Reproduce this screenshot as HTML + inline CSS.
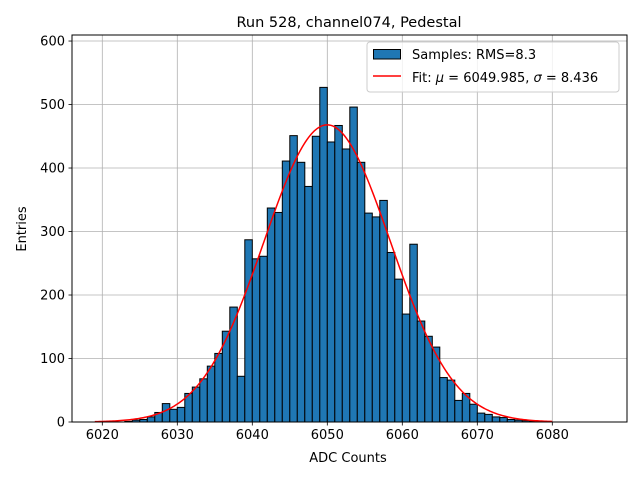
<!DOCTYPE html>
<html><head><meta charset="utf-8"><style>
body{margin:0;background:#fff}
svg text{font-family:"DejaVu Sans","Liberation Sans",sans-serif;fill:#000}
</style></head><body>
<svg id="chart" width="640" height="480" viewBox="0 0 640 480" xmlns="http://www.w3.org/2000/svg">
<rect width="640" height="480" fill="#fff"/>
<text x="349" y="27" font-size="14.5" text-anchor="middle">Run 528, channel074, Pedestal</text>
<g id="grid"></g>
<g id="bars"></g>
<path id="fit" fill="none" stroke="#ff0000" stroke-width="1.5"/>
<rect x="72" y="35" width="555" height="387" fill="none" stroke="#000" stroke-width="1"/>
<g id="ticks"></g>
<text x="348" y="462" font-size="13" text-anchor="middle">ADC Counts</text>
<text x="26" y="229" font-size="13" text-anchor="middle" transform="rotate(-90 26 229)">Entries</text>
<g>
<rect x="367" y="42" width="252" height="50" rx="3" fill="#fff" fill-opacity="0.8" stroke="#cccccc"/>
<rect x="373.5" y="49.5" width="27" height="9.5" fill="#1f77b4" stroke="#000"/>
<text x="412" y="59" font-size="13">Samples: RMS=8.3</text>
<line x1="373" y1="76" x2="401" y2="76" stroke="#ff0000" stroke-width="1.5"/>
<text x="412" y="82" font-size="13">Fit: <tspan font-style="italic">μ</tspan> = 6049.985, <tspan font-style="italic">σ</tspan> = 8.436</text>
</g>
</svg>
<script>
const binStart = [6023,6024,6025,6026,6027,6028,6029,6030,6031,6032,6033,6034,6035,6036,6037,6038,6039,6040,6041,6042,6043,6044,6045,6046,6047,6048,6049,6050,6051,6052,6053,6054,6055,6056,6057,6058,6059,6060,6061,6062,6063,6064,6065,6066,6067,6068,6069,6070,6071,6072,6073,6074,6075,6076,6077];
const counts = [1,3,4,8,15,29,20,23,45,55,68,88,108,143,181,72,287,257,261,337,330,411,451,409,371,450,527,441,467,430,496,409,329,323,349,267,225,170,280,159,135,118,70,66,34,45,28,14,12,8,7,4,3,2,1];
const fitMu = 6049.985;
const fitSigma = 8.436;
const fitAmp = 468;
const fitRange = [6019, 6080];
const xTicks = [6020,6030,6040,6050,6060,6070,6080];
const yTicks = [0,100,200,300,400,500,600];
const binWidth = 1;

const X0=72,X1=627,Y0=422,Y1=35;
const xMin=6015.96,xMax=6089.96,yMin=0,yMax=609.5;
const sx=v=>X0+(v-xMin)/(xMax-xMin)*(X1-X0);
const sy=v=>Y0-(v-yMin)/(yMax-yMin)*(Y0-Y1);
const NS='http://www.w3.org/2000/svg';
const mk=(t,a)=>{const e=document.createElementNS(NS,t);for(const k in a)e.setAttribute(k,a[k]);return e;};
const grid=document.getElementById('grid'),ticks=document.getElementById('ticks'),bars=document.getElementById('bars');
xTicks.forEach(t=>{const x=sx(t);
 const g=mk('line',{x1:x,x2:x,y1:Y1,y2:Y0,stroke:'#b0b0b0','stroke-width':0.8});
 
 
 grid.appendChild(g);
 const l=mk('line',{x1:x,x2:x,y1:Y0,y2:Y0+3.5,stroke:'#000','stroke-width':0.8});
 
 
 ticks.appendChild(l);
 const tx=mk('text',{x:x,y:Y0+17,'font-size':13,'text-anchor':'middle'});tx.textContent=t;
 
 
 ticks.appendChild(tx);});
yTicks.forEach(t=>{const y=sy(t);
 const g=mk('line',{x1:X0,x2:X1,y1:y,y2:y,stroke:'#b0b0b0','stroke-width':0.8});
 
 
 grid.appendChild(g);
 const l=mk('line',{x1:X0-3.5,x2:X0,y1:y,y2:y,stroke:'#000','stroke-width':0.8});
 
 
 ticks.appendChild(l);
 const tx=mk('text',{x:X0-7,y:y+4.5,'font-size':13,'text-anchor':'end'});tx.textContent=t;
 
 
 ticks.appendChild(tx);});
binStart.forEach((b,i)=>{const x=sx(b),w=sx(b+binWidth)-x,y=sy(counts[i]);
 const r=mk('rect',{x:x,y:y,width:w,height:Y0-y,fill:'#1f77b4',stroke:'#000','stroke-width':1});
 
 
 bars.appendChild(r);});
let d='';
for(let i=0;i<=300;i++){const v=fitRange[0]+(fitRange[1]-fitRange[0])*i/300;
 const c=fitAmp*Math.exp(-0.5*((v-fitMu)/fitSigma)**2);
 d+=(i?'L':'M')+sx(v).toFixed(2)+','+sy(c).toFixed(2);}
document.getElementById('fit').setAttribute('d',d);
</script>
</body></html>
